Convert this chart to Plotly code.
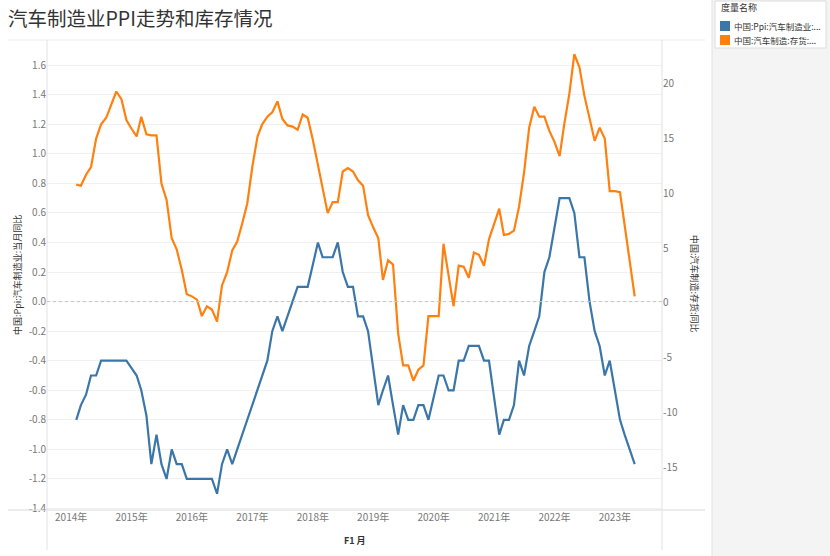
import pandas as pd
import plotly.graph_objects as go

# monthly data, Feb 2014 .. May 2023
months = pd.date_range('2014-02-01', periods=112, freq='MS')

ppi_yoy = [
    -0.8, -0.7, -0.63, -0.5, -0.5, -0.4, -0.4, -0.4, -0.4, -0.4, -0.4, -0.45,
    -0.5, -0.6, -0.77, -1.1, -0.9, -1.1, -1.2, -1.0, -1.1, -1.1, -1.2, -1.2,
    -1.2, -1.2, -1.2, -1.2, -1.3, -1.1, -1.0, -1.1, -1.0, -0.9, -0.8, -0.7,
    -0.6, -0.5, -0.4, -0.2, -0.1, -0.2, -0.1, 0.0, 0.1, 0.1, 0.1, 0.25,
    0.4, 0.3, 0.3, 0.3, 0.4, 0.2, 0.1, 0.1, -0.1, -0.1, -0.2, -0.45,
    -0.7, -0.6, -0.5, -0.7, -0.9, -0.7, -0.8, -0.8, -0.7, -0.7, -0.8, -0.65,
    -0.5, -0.5, -0.6, -0.6, -0.4, -0.4, -0.3, -0.3, -0.3, -0.4, -0.4, -0.65,
    -0.9, -0.8, -0.8, -0.7, -0.4, -0.5, -0.3, -0.2, -0.1, 0.2, 0.3, 0.5,
    0.7, 0.7, 0.7, 0.6, 0.3, 0.3, 0.0, -0.2, -0.3, -0.5, -0.4, -0.6,
    -0.8, -0.9, -1.0, -1.1,
]

inventory_yoy = [
    10.8, 10.7, 11.7, 12.4, 15.0, 16.3, 16.9, 18.1, 19.3, 18.6, 16.7, 15.9,
    15.2, 17.0, 15.4, 15.3, 15.3, 10.9, 9.4, 5.9, 4.9, 3.0, 0.8, 0.6,
    0.3, -1.2, -0.3, -0.6, -1.7, 1.6, 2.8, 4.8, 5.6, 7.3, 9.1, 12.5,
    15.2, 16.3, 17.0, 17.4, 18.4, 16.8, 16.2, 16.1, 15.8, 17.2, 16.9, 14.9,
    12.6, 10.4, 8.2, 9.2, 9.2, 12.0, 12.3, 12.0, 11.2, 10.7, 8.0, 6.9,
    5.9, 2.1, 3.9, 3.5, -2.8, -5.7, -5.7, -7.1, -6.1, -5.7, -1.2, -1.2,
    -1.2, 5.4, 2.7, -0.3, 3.4, 3.3, 2.3, 4.6, 4.4, 3.4, 5.8, 7.2,
    8.6, 6.2, 6.3, 6.6, 8.8, 11.9, 16.0, 17.9, 17.0, 17.0, 15.7, 14.7,
    13.4, 16.3, 19.1, 22.7, 21.5, 18.9, 16.9, 14.8, 16.0, 15.0, 10.2, 10.2,
    10.1, 7.2, 3.8, 0.6,
]

left_ticks = [-1.4, -1.2, -1.0, -0.8, -0.6, -0.4, -0.2, 0.0, 0.2, 0.4, 0.6, 0.8, 1.0, 1.2, 1.4, 1.6]
right_ticks = [-15, -10, -5, 0, 5, 10, 15, 20]
years = list(range(2014, 2024))

names = ['中国:Ppi:汽车制造业:当月同比', '中国:汽车制造:存货:同比']
legend_labels = ['中国:Ppi:汽车制造业:...', '中国:汽车制造:存货:...']
colors = ['#3b76a9', '#ff800e']

FONT = 'Noto Sans CJK SC, Noto Sans, sans-serif'
W, H = 830, 556
L, R, T, B = 47, 168, 40, 46
PW, PH = W - L - R, H - T - B


def px_x(x):
    return (x - L) / PW


def px_y(y):
    return (H - B - y) / PH


fig = go.Figure()
fig.add_trace(go.Scatter(
    x=months, y=ppi_yoy, name=names[0], mode='lines',
    line=dict(color=colors[0], width=2.2), yaxis='y', showlegend=False))
fig.add_trace(go.Scatter(
    x=months, y=inventory_yoy, name=names[1], mode='lines',
    line=dict(color=colors[1], width=2.2), yaxis='y2', showlegend=False))

shapes = [
    # side panel
    dict(type='rect', xref='paper', yref='paper', x0=px_x(712), x1=px_x(832),
         y0=px_y(H + 2), y1=px_y(-2), fillcolor='#f4f4f4',
         line=dict(color='#e2e2e2', width=1), layer='below'),
    # frame lines
    dict(type='line', xref='paper', yref='paper', x0=px_x(8), x1=px_x(705),
         y0=1, y1=1, line=dict(color='#ececec', width=1)),
    dict(type='line', xref='paper', yref='paper', x0=px_x(8), x1=px_x(705),
         y0=0, y1=0, line=dict(color='#d9d9d9', width=1)),
    dict(type='line', xref='paper', yref='paper', x0=0, x1=0,
         y0=px_y(550), y1=1, line=dict(color='#e2e2e2', width=1)),
    dict(type='line', xref='paper', yref='paper', x0=1, x1=1,
         y0=px_y(550), y1=1, line=dict(color='#e2e2e2', width=1)),
    # zero line
    dict(type='line', xref='paper', yref='y', x0=0, x1=1, y0=0, y1=0,
         line=dict(color='#c4c4c4', width=1, dash='dot')),
    # legend box
    dict(type='rect', xref='paper', yref='paper', x0=px_x(715), x1=px_x(826),
         y0=px_y(48), y1=px_y(1), fillcolor='white',
         line=dict(color='#dcdcdc', width=1)),
]
for i, c in enumerate(colors):
    yc = 26 + 14 * i
    shapes.append(dict(type='rect', xref='paper', yref='paper',
                       x0=px_x(720), x1=px_x(730), y0=px_y(yc + 5), y1=px_y(yc - 5),
                       fillcolor=c, line=dict(width=0)))

annotations = [
    dict(text=names[0], x=px_x(17), y=0.5, xref='paper', yref='paper',
         xanchor='center', yanchor='middle',
         textangle=-90, showarrow=False, font=dict(size=9, color='#333')),
    dict(text=names[1], x=px_x(695), y=px_y(284), xref='paper', yref='paper',
         xanchor='center', yanchor='middle',
         textangle=90, showarrow=False, font=dict(size=9, color='#333')),
    dict(text='<b>F1 月</b>', x=0.5, y=px_y(540), xref='paper', yref='paper',
         xanchor='center', yanchor='middle',
         showarrow=False, font=dict(size=9, color='#333')),
    dict(text='度量名称', x=px_x(719), y=px_y(8), xref='paper', yref='paper',
         xanchor='left', yanchor='middle',
         showarrow=False, font=dict(size=9, color='#333')),
]
for i, lab in enumerate(legend_labels):
    annotations.append(dict(text=lab, x=px_x(732), y=px_y(26 + 14 * i),
                            xref='paper', yref='paper', xanchor='left',
                            yanchor='middle', showarrow=False,
                            font=dict(size=8.5, color='#333')))

fig.update_layout(
    width=W, height=H,
    margin=dict(l=L, r=R, t=T, b=B),
    paper_bgcolor='white', plot_bgcolor='white',
    font=dict(family=FONT, size=10, color='#666'),
    title=dict(text='汽车制造业PPI走势和库存情况', x=8 / W, xanchor='left',
               y=1 - 19 / H, yanchor='middle',
               font=dict(size=19.5, color='#333', family=FONT)),
    xaxis=dict(
        type='date', range=['2013-08-08', '2023-10-13'],
        tickvals=[f'{y}-01-01' for y in years],
        ticktext=[f'{y}年' for y in years],
        showgrid=False, zeroline=False, showline=False, ticks='',
        tickfont=dict(size=10, color='#777')),
    yaxis=dict(
        range=[-1.41, 1.77], tickvals=left_ticks,
        ticktext=[f'{v:.1f}' for v in left_ticks],
        showgrid=True, gridcolor='#f0f0f0', zeroline=False, showline=False,
        ticks='', tickfont=dict(size=10, color='#777')),
    yaxis2=dict(
        range=[-18.9, 24.0], overlaying='y', side='right',
        tickvals=right_ticks, ticktext=[str(v) for v in right_ticks],
        showgrid=False, zeroline=False, showline=False, ticks='',
        tickfont=dict(size=10, color='#777')),
    shapes=shapes,
    annotations=annotations,
    showlegend=False,
)

# drop the page's default body margin so the figure sits at the window corner
fig.write_html('out.html', config={'displayModeBar': False},
               post_script="document.body.style.margin='0';")
